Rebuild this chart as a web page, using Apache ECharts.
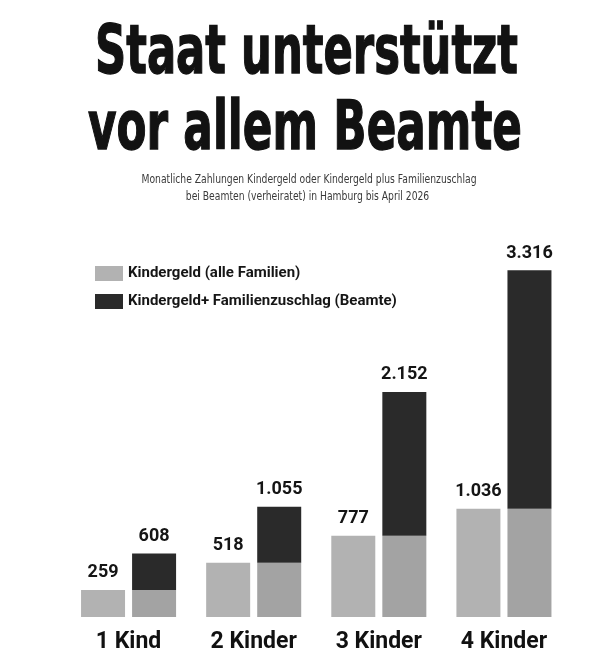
<!DOCTYPE html>
<html>
<head>
<meta charset="utf-8">
<script src="https://cdn.jsdelivr.net/npm/echarts@6/dist/echarts.min.js"></script>
<style>
  html, body { margin: 0; padding: 0; background: #fff; }
  #chart { width: 613px; height: 657px; }
</style>
</head>
<body>
<div id="chart"></div>
<script>
// Daten
var kategorien = ['1 Kind', '2 Kinder', '3 Kinder', '4 Kinder'];
var kindergeld = [259, 518, 777, 1036];
var zuschlagAnteil = [349, 537, 1375, 2280];   // Familienzuschlag oben drauf
var beamteGesamt = [608, 1055, 2152, 3316];    // Summe, als Beschriftung

var titelZeilen = ['Staat unterstützt', 'vor allem Beamte'];
var unterZeilen = [
  'Monatliche Zahlungen Kindergeld oder Kindergeld plus Familienzuschlag',
  'bei Beamten (verheiratet) in Hamburg bis April 2026'
];

var TITEL_SCHRIFT = '"DejaVu Sans", sans-serif';
var SCHRIFT = 'Roboto, "DejaVu Sans", sans-serif';
var TITEL_FONT = 'bold 67px ' + TITEL_SCHRIFT;
var UNTER_FONT = '13px ' + TITEL_SCHRIFT;

// Breite messen, damit der Titel so schmal wird wie im Original
var ctx = document.createElement('canvas').getContext('2d');
function skala(text, font, breite) {
  ctx.font = font;
  return breite / ctx.measureText(text).width;
}

function zahl(v) {
  return String(v).replace(/\B(?=(\d{3})+(?!\d))/g, '.');
}

var sUnter = skala(unterZeilen[0], UNTER_FONT, 335);

var myChart = echarts.init(document.getElementById('chart'));
var option = {
  backgroundColor: '#fff',
  animation: false,
  graphic: [
    { type: 'text', x: 306.5, y: 55.5, scaleX: skala(titelZeilen[0], TITEL_FONT, 423),
      style: { text: titelZeilen[0], font: TITEL_FONT, fill: '#121212', stroke: '#121212', lineWidth: 1.4,
        textAlign: 'center', textVerticalAlign: 'middle' } },
    { type: 'text', x: 305, y: 131.5, scaleX: skala(titelZeilen[1], TITEL_FONT, 434),
      style: { text: titelZeilen[1], font: TITEL_FONT, fill: '#121212', stroke: '#121212', lineWidth: 1.4,
        textAlign: 'center', textVerticalAlign: 'middle' } },
    { type: 'text', x: 309, y: 180, scaleX: sUnter,
      style: { text: unterZeilen[0], font: UNTER_FONT, fill: '#3a3a3a', textAlign: 'center', textVerticalAlign: 'middle' } },
    { type: 'text', x: 307.5, y: 196.5, scaleX: sUnter,
      style: { text: unterZeilen[1], font: UNTER_FONT, fill: '#3a3a3a', textAlign: 'center', textVerticalAlign: 'middle' } }
  ],
  legend: {
    orient: 'vertical',
    left: 90,
    top: 261,
    icon: 'rect',
    itemWidth: 28,
    itemHeight: 15,
    itemGap: 13,
    data: ['Kindergeld (alle Familien)', 'Kindergeld+ Familienzuschlag (Beamte)'],
    textStyle: { fontFamily: SCHRIFT, fontWeight: 'bold', fontSize: 15, color: '#161616' },
    selectedMode: false
  },
  grid: { left: 66, right: 46.5, top: 251, bottom: 40 },
  xAxis: {
    type: 'category',
    data: kategorien,
    axisLine: { show: false },
    axisTick: { show: false },
    axisLabel: { interval: 0, margin: 14, fontFamily: SCHRIFT, fontWeight: 'bold', fontSize: 23, color: '#111' }
  },
  yAxis: {
    type: 'value',
    min: 0,
    max: 3500,
    show: false,
    splitLine: { show: false }
  },
  series: [
    {
      name: 'Kindergeld (alle Familien)',
      type: 'bar',
      stack: 'alle',
      data: kindergeld,
      barWidth: 44,
      barGap: '16%',
      itemStyle: { color: '#b2b2b2' },
      label: {
        show: true, position: 'top', distance: 8,
        fontFamily: SCHRIFT, fontWeight: 'bold', fontSize: 18, color: '#151515',
        formatter: function (p) { return zahl(p.value); }
      }
    },
    {
      name: 'Kindergeld (Beamte)',
      type: 'bar',
      stack: 'beamte',
      data: kindergeld,
      barWidth: 44,
      itemStyle: { color: '#a3a3a3' }
    },
    {
      name: 'Kindergeld+ Familienzuschlag (Beamte)',
      type: 'bar',
      stack: 'beamte',
      data: zuschlagAnteil,
      barWidth: 44,
      itemStyle: { color: '#2a2a2a' },
      label: {
        show: true, position: 'top', distance: 8,
        fontFamily: SCHRIFT, fontWeight: 'bold', fontSize: 18, color: '#151515',
        formatter: function (p) { return zahl(beamteGesamt[p.dataIndex]); }
      }
    }
  ]
};
myChart.setOption(option);
</script>
</body>
</html>
